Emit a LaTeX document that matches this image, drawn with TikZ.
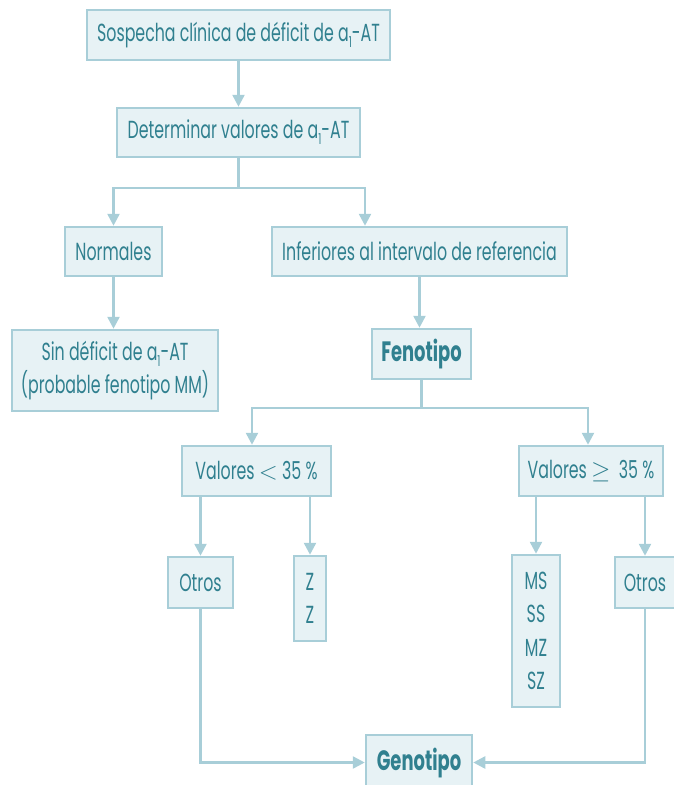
\documentclass[tikz,border=0pt]{standalone}
\usepackage{fontspec}
\setmainfont{Poppins}[FakeStretch=0.64]
\usetikzlibrary{arrows.meta,calc}
\definecolor{txt}{RGB}{48,128,143}
\definecolor{boxfill}{RGB}{231,242,245}
\definecolor{boxline}{RGB}{168,206,216}
\newcommand{\subone}{\raisebox{-0.45ex}{\fontsize{15}{16}\selectfont 1}}
\tikzset{
  box/.style={draw=boxline, line width=2.5pt, fill=boxfill, text=txt, inner sep=0pt,
    font=\fontsize{24.7}{33.5}\selectfont, align=center},
  bbox/.style={box, font=\fontsize{28}{33.5}\selectfont\bfseries},
  conn/.style={draw=boxline, line width=2.5pt},
  arr/.style={conn, -{Triangle[length=12pt,width=12pt]}},
}
\begin{document}
\begin{tikzpicture}[x=1pt,y=-1pt]
\useasboundingbox (0,0) rectangle (673,785);
\node[box, minimum width=303, minimum height=50] (sosp) at (238.5,35) {Sospecha clínica de déficit de a\subone-AT};
\node[box, minimum width=243, minimum height=49] (det) at (238.5,132.5) {Determinar valores de a\subone-AT};
\node[box, minimum width=97, minimum height=49] (norm) at (113.5,251.5) {Normales};
\node[box, minimum width=295, minimum height=49] (inf) at (419.5,251.5) {Inferiores al intervalo de referencia};
\node[box, minimum width=206, minimum height=81] (sin) at (115,370.5) {Sin déficit de a\subone-AT\\(probable fenotipo MM)};
\node[bbox, minimum width=99, minimum height=50] (feno) at (421.5,354) {Fenotipo};
\node[box, minimum width=149, minimum height=50] (vmen) at (256.5,471) {Valores $<$ 35 \%};
\node[box, minimum width=144, minimum height=50] (vmay) at (591,471) {Valores $\geq$\, 35 \%};
\node[box, minimum width=65, minimum height=51] (otl) at (200.5,582.5) {Otros};
\node[box, minimum width=32, minimum height=85] (zz) at (310,598.5) {Z\\Z};
\node[box, minimum width=48, minimum height=152] (ms) at (536,631) {MS\\SS\\MZ\\SZ};
\node[box, minimum width=60, minimum height=51] (otr) at (645,582.5) {Otros};
\node[bbox, minimum width=106, minimum height=55] (geno) at (419,762.5) {Genotipo};
% connectors
\draw[arr] (sosp.south) -- (det.north);
\coordinate (j1) at (238.5,188);
\coordinate (j1r) at (365,188);
\draw[conn] (det.south) -- (j1);
\draw[arr] (j1) -| (norm.north);
\draw[arr] (j1) -| (j1r |- inf.north);
\draw[arr] (norm.south) -- (sin.north -| norm.south);
\draw[arr] (inf.south) -- (feno.north -| inf.south);
\coordinate (j2) at (421.5,408);
\coordinate (j2l) at (252,408);
\coordinate (j2r) at (588,408);
\draw[conn] (feno.south) -- (j2);
\draw[arr] (j2) -| (j2l |- vmen.north);
\draw[arr] (j2) -| (j2r |- vmay.north);
\draw[arr] (otl.north |- vmen.south) -- (otl.north);
\draw[arr] (zz.north |- vmen.south) -- (zz.north);
\draw[arr] (ms.north |- vmay.south) -- (ms.north);
\draw[arr] (otr.north |- vmay.south) -- (otr.north);
\draw[arr] (otl.south) |- (geno.west);
\draw[arr] (otr.south) |- (geno.east);
\end{tikzpicture}
\end{document}
